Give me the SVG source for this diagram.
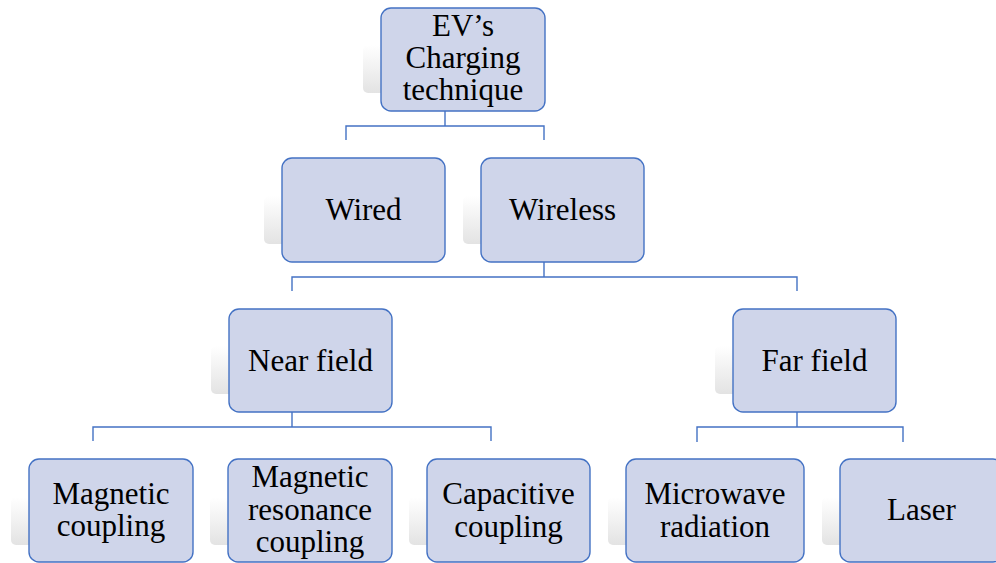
<svg xmlns="http://www.w3.org/2000/svg" width="996" height="563" viewBox="0 0 996 563">
<defs>
<linearGradient id="sh" x1="0" y1="0" x2="0" y2="1">
<stop offset="0" stop-color="#ffffff"/>
<stop offset="1" stop-color="#e3e3e3"/>
</linearGradient>
<style>
.box{fill:#cfd5ea;stroke:#4472c4;stroke-width:1.4}
.shd{fill:url(#sh)}
.t{font-family:"Liberation Serif","Times New Roman",serif;font-size:31px;fill:#000;text-anchor:middle}
.c{fill:none;stroke:#4472c4;stroke-width:1.4}
</style>
</defs>
<rect width="996" height="563" fill="#ffffff"/>
<g id="connectors">
<path class="c" d="M445 111V126M346 140V126H544V140"/>
<path class="c" d="M544 262V277M292 291V277H797V291"/>
<path class="c" d="M292 412V427M93 441V427H491V441"/>
<path class="c" d="M797 412V427M697 442V427H903V442"/>
</g>
<g id="n-ev">
<rect class="shd" x="363" y="45" width="40" height="48" rx="5"/>
<rect class="box" x="381" y="8" width="164" height="103" rx="10"/>
<text class="t" x="463" y="36">EV’s</text>
<text class="t" x="463" y="68">Charging</text>
<text class="t" x="463" y="100">technique</text>
</g>
<g id="n-wired">
<rect class="shd" x="264" y="196" width="40" height="48" rx="5"/>
<rect class="box" x="282" y="158" width="163" height="104" rx="10"/>
<text class="t" x="363.5" y="220">Wired</text>
</g>
<g id="n-wireless">
<rect class="shd" x="463" y="196" width="40" height="48" rx="5"/>
<rect class="box" x="481" y="158" width="163" height="104" rx="10"/>
<text class="t" x="562.5" y="220">Wireless</text>
</g>
<g id="n-near">
<rect class="shd" x="211" y="346" width="40" height="48" rx="5"/>
<rect class="box" x="229" y="309" width="163" height="103" rx="10"/>
<text class="t" x="310.5" y="371">Near field</text>
</g>
<g id="n-far">
<rect class="shd" x="715" y="346" width="40" height="48" rx="5"/>
<rect class="box" x="733" y="309" width="163" height="103" rx="10"/>
<text class="t" x="814.5" y="371">Far field</text>
</g>
<g id="n-magc">
<rect class="shd" x="11" y="497" width="40" height="48" rx="5"/>
<rect class="box" x="29" y="459" width="164" height="103" rx="10"/>
<text class="t" x="111" y="504">Magnetic</text>
<text class="t" x="111" y="536">coupling</text>
</g>
<g id="n-magres">
<rect class="shd" x="210" y="497" width="40" height="48" rx="5"/>
<rect class="box" x="228" y="459" width="164" height="103" rx="10"/>
<text class="t" x="310" y="487">Magnetic</text>
<text class="t" x="310" y="520">resonance</text>
<text class="t" x="310" y="552">coupling</text>
</g>
<g id="n-cap">
<rect class="shd" x="409" y="497" width="40" height="48" rx="5"/>
<rect class="box" x="427" y="459" width="163" height="103" rx="10"/>
<text class="t" x="508.5" y="504">Capacitive</text>
<text class="t" x="508.5" y="537">coupling</text>
</g>
<g id="n-micro">
<rect class="shd" x="608" y="497" width="40" height="48" rx="5"/>
<rect class="box" x="626" y="459" width="178" height="103" rx="10"/>
<text class="t" x="715" y="504">Microwave</text>
<text class="t" x="715" y="537">radiation</text>
</g>
<g id="n-laser">
<rect class="shd" x="822" y="497" width="40" height="48" rx="5"/>
<rect class="box" x="840" y="459" width="163" height="103" rx="10"/>
<text class="t" x="921.5" y="520">Laser</text>
</g>
</svg>
